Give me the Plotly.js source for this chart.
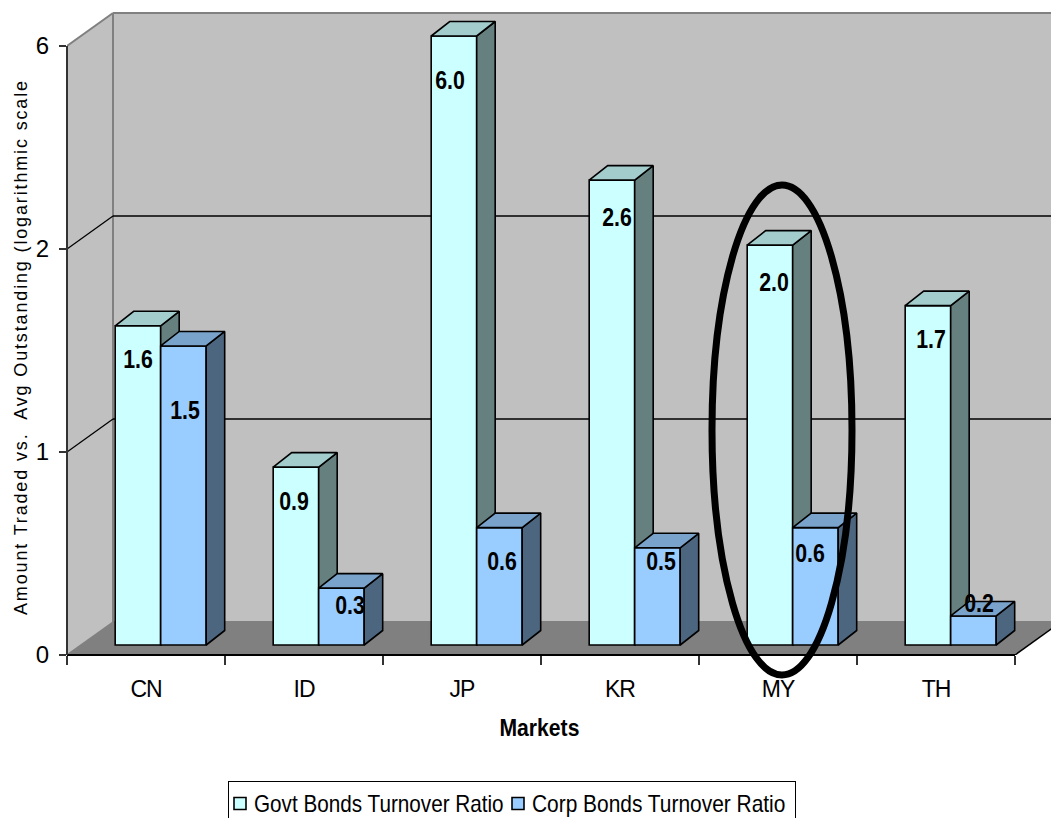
<!DOCTYPE html>
<html>
<head>
<meta charset="utf-8">
<script src="https://cdn.plot.ly/plotly-3.0.1.min.js"></script>
<style>
  html, body { margin: 0; padding: 0; background: #fff; overflow: hidden; }
  #chart { width: 1051px; height: 818px; }
  /* Condensed look for the chart text: no narrow face is available, so squeeze it */
  .annotation text { transform-box: fill-box; transform-origin: center; transform: scaleX(0.82); }
  .annotation.axisname text { transform: scaleX(0.92); }
  .annotation.ytitle text { transform: none; letter-spacing: 1.85px; }
  .xtick text { letter-spacing: -1px; }
  .legend .legendtext { transform-box: fill-box; transform-origin: left center; transform: translateX(-15px) scaleX(0.9); }
  .legend .legendpoints { transform: translateX(-9px); }
  .legend .traces:nth-of-type(2) .legendtext { transform: translateX(-20px) scaleX(0.91); }
  .legend .traces:nth-of-type(2) .legendpoints { transform: translateX(-14px); }
</style>
</head>
<body>
<div id="chart"></div>
<script>
// Turnover ratios by market
const markets = ['CN', 'ID', 'JP', 'KR', 'MY', 'TH'];
const govtTurnover = [1.6, 0.9, 6.0, 2.6, 2.0, 1.7];
const corpTurnover = [1.5, 0.3, 0.6, 0.5, 0.6, 0.2];
const valueTickLabels = ['0', '1', '2', '6'];
const govtName = 'Govt Bonds Turnover Ratio';
const corpName = 'Corp Bonds Turnover Ratio';

// Compressed value axis: value -> bar height in tick steps
const scaleValues = [0, 0.2, 0.3, 2, 2.6, 6];
const scaleSteps = [0, 0.143, 0.28, 1.97, 2.29, 3.0];
function toStep(v) {
  for (let k = 1; k < scaleValues.length; k++) {
    if (v <= scaleValues[k]) {
      const t = (v - scaleValues[k - 1]) / (scaleValues[k] - scaleValues[k - 1]);
      return scaleSteps[k - 1] + t * (scaleSteps[k] - scaleSteps[k - 1]);
    }
  }
  return scaleSteps[scaleSteps.length - 1];
}

// Canvas geometry, in pixels per axis unit
const W = 1051, H = 818, LEFT = 67, BASE = 655;
const pxPerCat = 158, pxPerStep = 203;
const xMax = (W - LEFT) / pxPerCat;
const yMax = BASE / pxPerStep;

// Oblique projection offsets
const wallDx = 46 / pxPerCat, wallDy = 33 / pxPerStep;
const barDx = 18.5 / pxPerCat, barDy = 14.5 / pxPerStep;
const floorY = 10 / pxPerStep;   // front face of the bars sits this far into the floor

const barWidth = 45.5 / pxPerCat;
const govtLeft = 0.305, corpLeft = govtLeft + barWidth;

function faces(values, leftInset) {
  const side = { x: [], y: [] }, top = { x: [], y: [] };
  values.forEach((v, i) => {
    const l = i + leftInset, r = l + barWidth, h = floorY + toStep(v);
    side.x.push(r, r + barDx, r + barDx, r, r, null);
    side.y.push(floorY, floorY + barDy, h + barDy, h, floorY, null);
    top.x.push(l, l + barDx, r + barDx, r, l, null);
    top.y.push(h, h + barDy, h + barDy, h, h, null);
  });
  return { side, top };
}

function series(values, leftInset, name, front, topColor, sideColor, yaxis) {
  const f = faces(values, leftInset);
  const poly = (d, color) => ({
    type: 'scatter', mode: 'lines', x: d.x, y: d.y, yaxis, fill: 'toself',
    fillcolor: color, line: { color: '#000', width: 1.6 }, showlegend: false, hoverinfo: 'skip'
  });
  return [
    {
      type: 'bar', name, yaxis,
      x: values.map((_, i) => i + leftInset + barWidth / 2),
      y: values.map(v => toStep(v)),
      base: values.map(() => floorY),
      width: values.map(() => barWidth),
      marker: { color: front, line: { color: '#000', width: 1.6 } }
    },
    poly(f.side, sideColor),
    poly(f.top, topColor)
  ];
}

const traces = [
  ...series(govtTurnover, govtLeft, govtName, '#CCFFFF', '#A3CCCC', '#668080', 'y'),
  ...series(corpTurnover, corpLeft, corpName, '#99CCFF', '#7AA3CC', '#4D6680', 'y2')
];

// Walls, floor and gridlines of the 3D box
const poly = pts => 'M' + pts.map(p => p.join(',')).join('L') + 'Z';
const farRight = xMax + 0.5;
const seg = (x0, y0, x1, y1, color, width, layer) => ({
  type: 'line', xref: 'x', yref: 'y', x0, y0, x1, y1, layer: layer || 'below',
  line: { color, width }
});
const paperSeg = (x0, y0, x1, y1, color, width) => ({
  type: 'line', xref: 'paper', yref: 'paper',
  x0: x0 / xMax, y0: y0 / yMax, x1: x1 / xMax, y1: y1 / yMax, layer: 'above',
  line: { color, width }
});

const shapes = [
  { type: 'path', xref: 'x', yref: 'y', layer: 'below', line: { width: 0 }, fillcolor: '#C0C0C0',
    path: poly([[0, 0], [wallDx, wallDy], [wallDx, 3 + wallDy], [0, 3]]) },
  { type: 'path', xref: 'x', yref: 'y', layer: 'below', line: { width: 0 }, fillcolor: '#C0C0C0',
    path: poly([[wallDx, wallDy], [farRight, wallDy], [farRight, 3 + wallDy], [wallDx, 3 + wallDy]]) },
  { type: 'path', xref: 'x', yref: 'y', layer: 'below', line: { width: 0 }, fillcolor: '#808080',
    path: poly([[0, 0], [wallDx, wallDy], [6 + wallDx, wallDy], [6, 0]]) },
  seg(wallDx, wallDy, wallDx, 3 + wallDy, '#808080', 2),
  seg(wallDx, wallDy, farRight, wallDy, '#808080', 2),
  seg(wallDx, 3 + wallDy, farRight, 3 + wallDy, '#808080', 2),
  seg(0, 3, wallDx, 3 + wallDy, '#808080', 2),
  seg(0, 0, wallDx, wallDy, '#808080', 1.5),
  seg(0, 1, wallDx, 1 + wallDy, '#000', 1.3),
  seg(wallDx, 1 + wallDy, farRight, 1 + wallDy, '#000', 1.3),
  seg(0, 2, wallDx, 2 + wallDy, '#000', 1.3),
  seg(wallDx, 2 + wallDy, farRight, 2 + wallDy, '#000', 1.3),
  seg(6, 0, 6 + wallDx, wallDy, '#000', 1.5),
  paperSeg(0, 0, 6, 0, '#000', 2),
  paperSeg(0, 0, 0, 3, '#333', 2),
  // Highlight ring around the MY group
  { type: 'circle', xref: 'paper', yref: 'paper', layer: 'above',
    x0: (712 - LEFT) / pxPerCat / xMax, x1: (852 - LEFT) / pxPerCat / xMax,
    y0: (BASE - 675) / BASE, y1: (BASE - 185) / BASE,
    line: { color: '#000', width: 7 } }
];

// Data labels on the front faces of the bars
const sans = '"Liberation Sans", Arial, sans-serif';
const govtLabelDrop = [33, 34, 44, 37, 37, 33];
const corpLabelDrop = [64, 17, 33, 13, 25, -13];
const govtLabelShift = [0, -2, -4, 5, 4, 3];
const corpLabelShift = [2, 9, 3, 4, -5, 6];

function valueLabels(values, leftInset, drops, shifts) {
  return values.map((v, i) => ({
    xref: 'x', yref: 'y', x: i + leftInset + barWidth / 2, y: floorY + toStep(v),
    text: v.toFixed(1), showarrow: false, xanchor: 'center', yanchor: 'middle',
    xshift: shifts[i], yshift: -drops[i],
    font: { family: sans, size: 26, color: '#000', weight: 700 }
  }));
}

const annotations = [
  ...valueLabels(govtTurnover, govtLeft, govtLabelDrop, govtLabelShift),
  ...valueLabels(corpTurnover, corpLeft, corpLabelDrop, corpLabelShift),
  { xref: 'paper', yref: 'paper', x: (539 - LEFT) / (W - LEFT), y: (BASE - 728) / BASE,
    text: 'Markets', showarrow: false, xanchor: 'center', yanchor: 'middle',
    font: { family: sans, size: 23, color: '#000', weight: 700 } },
  { xref: 'paper', yref: 'paper', x: (21 - LEFT) / (W - LEFT), y: (BASE - 347) / BASE,
    text: 'Amount Traded vs.  Avg Outstanding (logarithmic scale', textangle: -90,
    showarrow: false, xanchor: 'center', yanchor: 'middle',
    font: { family: sans, size: 18, color: '#000' } }
];

const layout = {
  width: W, height: H,
  margin: { l: LEFT, r: 0, t: 0, b: H - BASE, pad: 0, autoexpand: false },
  paper_bgcolor: '#fff', plot_bgcolor: '#fff',
  barmode: 'overlay',
  showlegend: true,
  legend: {
    orientation: 'h', xref: 'paper', yref: 'paper',
    x: (228 - LEFT) / (W - LEFT), y: (BASE - 781) / BASE, xanchor: 'left', yanchor: 'top',
    entrywidth: 238, entrywidthmode: 'pixels',
    bgcolor: '#fff', bordercolor: '#000', borderwidth: 1,
    font: { family: sans, size: 23, color: '#000' }, traceorder: 'normal', itemclick: false
  },
  xaxis: {
    range: [0, xMax], showgrid: false, zeroline: false, showline: false, fixedrange: true,
    tickmode: 'array', tickvals: markets.map((_, i) => i + 0.5), ticktext: markets,
    ticks: '', ticklabelstandoff: 18,
    tickfont: { family: sans, size: 23, color: '#000' },
    minor: { tickmode: 'array', tickvals: [0, 1, 2, 3, 4, 5, 6], ticks: 'outside', ticklen: 9, tickwidth: 1.5, tickcolor: '#333', showgrid: false }
  },
  yaxis: {
    range: [0, yMax], showgrid: false, zeroline: false, showline: false, fixedrange: true,
    tickmode: 'array', tickvals: [0, 1, 2, 3], ticktext: valueTickLabels,
    ticks: 'outside', ticklen: 7, tickwidth: 1.5, tickcolor: '#333', ticklabelstandoff: 5,
    tickfont: { family: sans, size: 24, color: '#000' }
  },
  yaxis2: { range: [0, yMax], overlaying: 'y', visible: false, fixedrange: true },
  shapes, annotations
};

Plotly.newPlot('chart', traces, layout, { displayModeBar: false, staticPlot: true }).then(() => {
  document.querySelectorAll('.annotation').forEach(a => {
    if (a.textContent.startsWith('Amount')) a.classList.add('ytitle');
    if (a.textContent === 'Markets') a.classList.add('axisname');
  });
});
</script>
</body>
</html>
